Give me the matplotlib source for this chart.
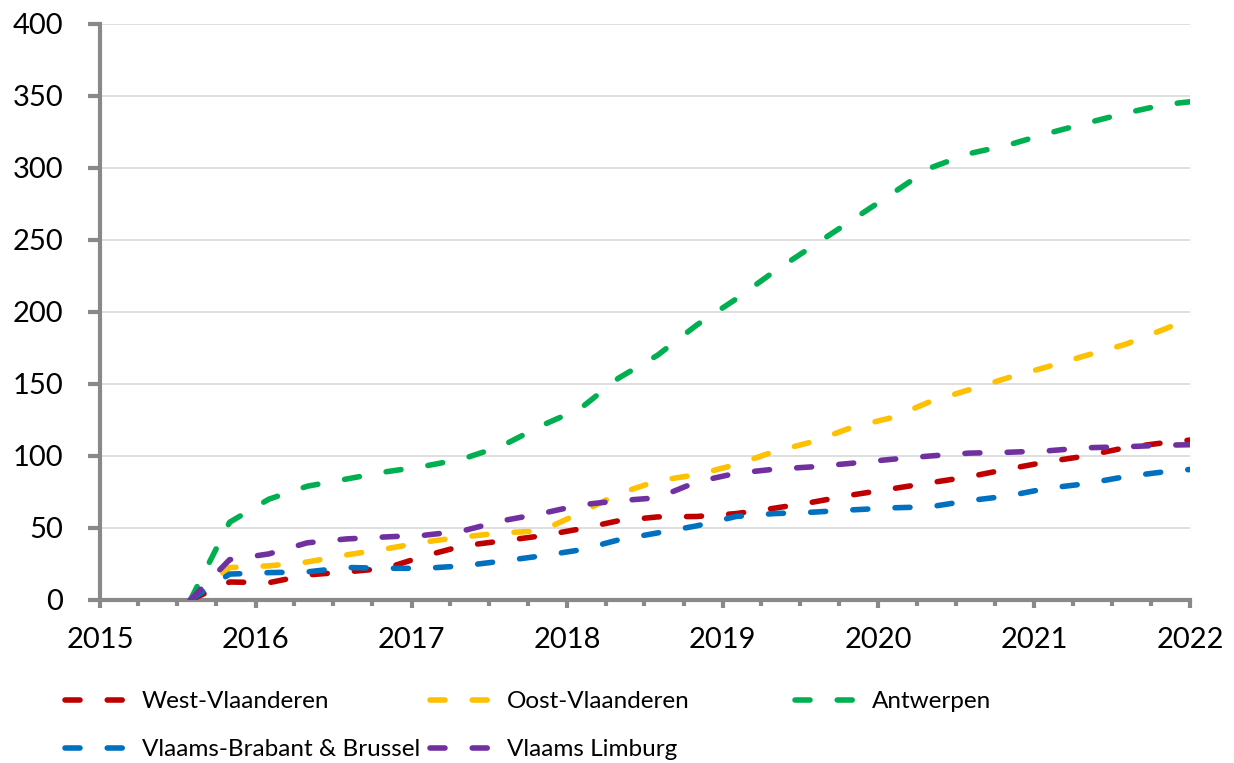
import matplotlib
matplotlib.use("Agg")
import matplotlib.pyplot as plt
import matplotlib.dates as mdates
import pandas as pd
from datetime import datetime

plt.rcParams['font.family'] = ['Lato', 'DejaVu Sans']

dates = ["2015-08", "2015-11", "2016-02", "2016-05", "2016-08", "2016-11",
         "2017-02", "2017-05", "2017-08", "2017-11", "2018-02", "2018-05",
         "2018-08", "2018-11", "2019-02", "2019-05", "2019-08", "2019-11",
         "2020-02", "2020-05", "2020-08", "2020-11", "2021-02", "2021-05",
         "2021-08", "2021-11", "2022-02"]

west_vlaanderen = [0, 12.5, 12, 17.4, 19.5, 22, 30.6, 37.6, 41, 44.5, 49.4, 55,
                   57.7, 58, 60, 63.7, 68, 73, 77.2, 81.4, 85.6, 91, 96, 100,
                   105.7, 109.2, 112]
oost_vlaanderen = [0, 22.5, 23.7, 26.4, 31.3, 35.5, 40.3, 43.8, 46.6, 48, 60.5, 73.7,
                   82.8, 87, 94, 103, 110, 120, 126.6, 137.7, 146, 154.4, 162, 169.7,
                   177.4, 188, 199]
antwerpen = [0, 54, 70, 79, 84, 89, 93, 98, 107, 121, 133, 154,
             170, 191, 209, 228, 246, 264, 282, 300, 310, 316, 324, 331,
             338, 344, 347]
vlaams_brabant = [0, 18, 19, 19.5, 22.6, 22, 22, 23.7, 27, 30.6, 34.8, 41.7,
                  46.6, 51.5, 58, 60, 61, 62.6, 64, 64.7, 69, 72.3, 77.6, 80.7,
                  85.6, 89, 91.5]
vlaams_limburg = [0, 28, 32, 39.7, 42.4, 43.8, 45, 48, 55, 60, 66, 68.9,
                  71, 82, 88, 90.8, 92.5, 95, 97.7, 100, 102, 102.6, 103.6, 105.7,
                  106.4, 107.5, 108]

series = [
    ("West-Vlaanderen", west_vlaanderen, "#C00000"),
    ("Oost-Vlaanderen", oost_vlaanderen, "#FFC000"),
    ("Antwerpen", antwerpen, "#00B050"),
    ("Vlaams-Brabant & Brussel", vlaams_brabant, "#0070C0"),
    ("Vlaams Limburg", vlaams_limburg, "#7030A0"),
]

x = pd.to_datetime(dates)

W, H = 1234, 763
fig = plt.figure(figsize=(W / 100, H / 100), dpi=100)
ax = fig.add_axes([100 / W, (H - 600) / H, (1190 - 100) / W, (600 - 24) / H])

lw = 4.0
dash = (0, (2.7, 4.9))
lines = {}
for name, vals, col in series:
    ln, = ax.plot(x, vals, color=col, lw=lw, linestyle=dash,
                  dash_capstyle='round', solid_capstyle='round', zorder=3, label=name)
    lines[name] = ln

ax.set_xlim(datetime(2015, 1, 1), datetime(2022, 1, 1))
ax.set_ylim(0, 400)
ax.set_yticks(range(0, 401, 50))
ax.xaxis.set_major_locator(mdates.YearLocator())
ax.xaxis.set_major_formatter(mdates.DateFormatter('%Y'))
ax.xaxis.set_minor_locator(mdates.MonthLocator(bymonth=[1, 4, 7, 10]))

gray = "#898989"
for s in ['top', 'right']:
    ax.spines[s].set_visible(False)
for s in ['left', 'bottom']:
    ax.spines[s].set_color(gray)
    ax.spines[s].set_linewidth(3)

ax.yaxis.grid(True, color="#d9d9d9", lw=1.2)
ax.set_axisbelow(True)

ax.tick_params(axis='y', which='major', direction='out', length=8.6, width=3,
               color=gray, labelsize=21, pad=18, labelcolor='black')
ax.tick_params(axis='x', which='major', direction='out', length=5.8, width=3,
               color=gray, labelsize=21, pad=14, labelcolor='black')
ax.tick_params(axis='x', which='minor', direction='out', length=4.3, width=3,
               color=gray)

cols = [
    (["West-Vlaanderen", "Vlaams-Brabant & Brussel"], 65),
    (["Oost-Vlaanderen", "Vlaams Limburg"], 430),
    (["Antwerpen"], 795),
]
for names, xpx in cols:
    fig.legend([lines[n] for n in names], names, loc='upper left',
               bbox_to_anchor=(xpx / W, 1 - 691 / H), frameon=False,
               fontsize=17.5, handlelength=2.63, handletextpad=0.53,
               borderpad=0, borderaxespad=0, labelspacing=1.13)

fig.savefig("out.png", dpi=100)
